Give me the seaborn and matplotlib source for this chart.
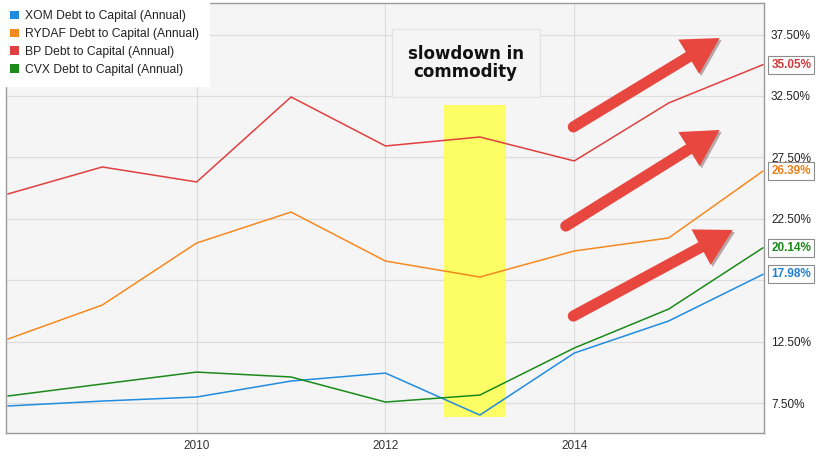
import numpy as np
import pandas as pd
import seaborn as sns
import matplotlib.pyplot as plt
import matplotlib.patheffects as pe
from matplotlib.patches import Patch, Rectangle

# data (year-end values, %)
years = [2008, 2009, 2010, 2011, 2012, 2013, 2014, 2015, 2016]
xom = [7.26, 7.66, 7.99, 9.29, 9.94, 6.52, 11.57, 14.18, 17.98]
rydaf = [12.71, 15.48, 20.53, 23.05, 19.06, 17.76, 19.88, 20.94, 26.39]
bp = [24.52, 26.72, 25.50, 32.42, 28.43, 29.16, 27.21, 31.93, 35.05]
cvx = [8.07, 9.05, 10.02, 9.62, 7.58, 8.15, 11.98, 15.15, 20.14]

names = ["XOM Debt to Capital (Annual)", "RYDAF Debt to Capital (Annual)",
         "BP Debt to Capital (Annual)", "CVX Debt to Capital (Annual)"]
colors = ["#1f8ce0", "#f5891f", "#e0403f", "#1a8a1a"]
text_colors = ["#1f7fcf", "#e8801a", "#d03a3a", "#1a8a1a"]
yticks = [7.5, 12.5, 17.5, 22.5, 27.5, 32.5, 37.5]
xticks = [2010, 2012, 2014]

df = pd.concat([pd.DataFrame({"year": years, "value": v, "series": n})
                for v, n in zip([xom, rydaf, bp, cvx], names)])

sns.set_style("white")
plt.rcParams["font.family"] = ["Liberation Sans", "DejaVu Sans"]

fig = plt.figure(figsize=(8.4, 4.59), dpi=100)
ax = fig.add_axes([6 / 840, 26 / 459, 758 / 840, 430 / 459])
ax.set_facecolor("#f5f5f5")

# highlighted period
ax.add_patch(Rectangle((2012.62, 6.36), 0.66, 25.4, facecolor="#ffff55",
                       edgecolor="none", alpha=0.9, zorder=1))

sns.lineplot(data=df, x="year", y="value", hue="series", palette=colors,
             hue_order=names, linewidth=1.1, legend=False, ax=ax, zorder=3)

ax.set_xlim(2007.98, 2016.01)
ax.set_ylim(5.06, 40.07)
ax.set_xticks(xticks)
ax.set_xticklabels([str(x) for x in xticks], fontsize=8.5, color="#333333")
ax.yaxis.tick_right()
ax.set_yticks(yticks)
ax.set_yticklabels(["" if t == 17.5 else f"{t:.2f}%" for t in yticks],
                   fontsize=8.5, color="#222222")
ax.tick_params(length=0, pad=5)
ax.set_xlabel("")
ax.set_ylabel("")
ax.grid(True, color="#dcdcdc", lw=0.8, zorder=0)
ax.set_axisbelow(True)
for s in ax.spines.values():
    s.set_color("#9a9a9a")
    s.set_linewidth(1)

# last-value tags on the right axis
for vals, tc in zip([xom, rydaf, bp, cvx], text_colors):
    ax.annotate(f"{vals[-1]:.2f}%", xy=(years[-1], vals[-1]), xycoords="data",
                xytext=(6, 0), textcoords="offset points", ha="left", va="center",
                fontsize=8.5, fontweight="bold", color=tc, annotation_clip=False,
                bbox=dict(boxstyle="square,pad=0.25", fc="white", ec="#8c8c8c", lw=0.8),
                zorder=6)

# text box
ax.text(2012.85, 35.2, "slowdown in\ncommodity", ha="center", va="center",
        fontsize=12, fontweight="bold", family="DejaVu Sans", color="#111111",
        linespacing=1.0, zorder=5,
        bbox=dict(boxstyle="square,pad=0.95", fc="#f5f5f5", ec="#e2e2e2", lw=0.8))

# red arrows
arrows = [((2013.99, 29.98), (2015.54, 37.22)),
          ((2013.91, 21.91), (2015.54, 29.73)),
          ((2013.99, 14.58), (2015.68, 21.59))]
shadow = [pe.withSimplePatchShadow(offset=(1.5, -1.5), alpha=0.35)]
for tail, tip in arrows:
    t = np.array(tail)
    p = np.array(tip)
    base = t + (p - t) * 0.8
    ax.annotate("", xy=tuple(base), xytext=tail,
                arrowprops=dict(arrowstyle="-", lw=8, color="#e8473f",
                                capstyle="round", shrinkA=0, shrinkB=0,
                                path_effects=shadow), zorder=7)
    ax.annotate("", xy=tip, xytext=tail,
                arrowprops=dict(arrowstyle="-|>,head_length=2.6,head_width=1.45",
                                lw=0, color="#e8473f", mutation_scale=10,
                                shrinkA=0, shrinkB=0, path_effects=shadow), zorder=7)

# legend
handles = [Patch(facecolor=c, edgecolor="none") for c in colors]
leg = ax.legend(handles, names, loc="upper left", bbox_to_anchor=(-0.008, 1.007),
                fontsize=8.7, frameon=True, fancybox=False, handlelength=0.7,
                handleheight=0.7, handletextpad=0.5, labelspacing=0.48,
                borderpad=0.85, borderaxespad=0)
leg.get_frame().set_facecolor("white")
leg.get_frame().set_edgecolor("white")
leg.get_frame().set_alpha(1)
for t in leg.get_texts():
    t.set_color("#222222")

fig.savefig("out.png", dpi=100)
